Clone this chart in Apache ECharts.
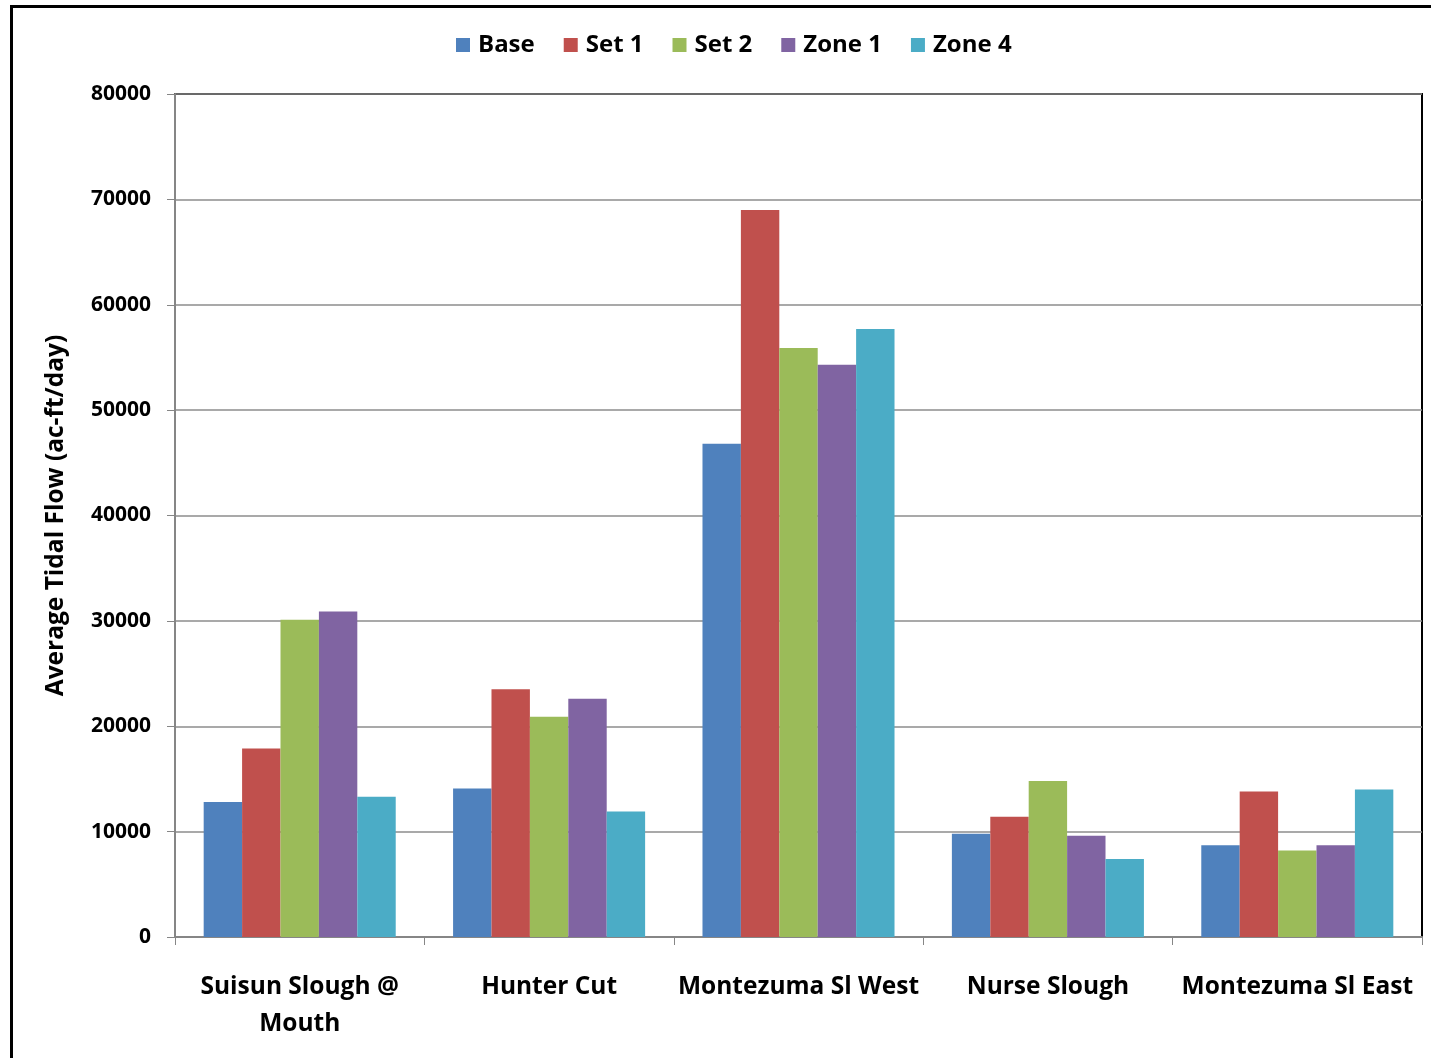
<!DOCTYPE html>
<html>
<head>
<meta charset="utf-8">
<script src="https://cdn.jsdelivr.net/npm/echarts@6/dist/echarts.min.js"></script>
<style>
  html, body { margin: 0; padding: 0; background: #fff; }
  #chart { width: 1431px; height: 1058px; }
</style>
</head>
<body>
<div id="chart"></div>
<script>
// Stations along the slough network
const categories = ['Suisun Slough @\nMouth', 'Hunter Cut', 'Montezuma Sl West', 'Nurse Slough', 'Montezuma Sl East'];

// Average tidal flow (ac-ft/day) for each scenario
const base  = [12800, 14100, 46800, 9800, 8700];
const set1  = [17900, 23500, 69000, 11400, 13800];
const set2  = [30100, 20900, 55900, 14800, 8200];
const zone1 = [30900, 22600, 54300, 9600, 8700];
const zone4 = [13300, 11900, 57700, 7400, 14000];

const seriesNames = ['Base', 'Set 1', 'Set 2', 'Zone 1', 'Zone 4'];
const seriesData = [base, set1, set2, zone1, zone4];
const colors = ['#4F81BD', '#C0504D', '#9BBB59', '#8064A2', '#4BACC6'];

const FONT = '"Open Sans", Lato, sans-serif';

const chart = echarts.init(document.getElementById('chart'));
chart.setOption({
  animation: false,
  backgroundColor: '#ffffff',
  color: colors,
  textStyle: { fontFamily: FONT, fontWeight: 'bold', color: '#000' },
  graphic: [{
    type: 'rect',
    silent: true,
    shape: { x: 11.5, y: 6.5, width: 1600, height: 1200 },
    style: { fill: 'none', stroke: '#000', lineWidth: 3 }
  }],
  legend: {
    top: 28,
    left: 451,
    itemWidth: 14,
    itemHeight: 14,
    itemGap: 29,
    icon: 'rect',
    textStyle: { fontFamily: FONT, fontWeight: 'bold', fontSize: 24, color: '#000', padding: [0, 0, 0, 3] },
    data: seriesNames
  },
  grid: {
    left: 175, right: 9, top: 94, bottom: 121,
    show: true,
    borderColor: '#000',
    borderWidth: 2,
    backgroundColor: 'transparent'
  },
  xAxis: {
    type: 'category',
    data: categories,
    axisLine: { show: true, lineStyle: { color: '#868686', width: 2 } },
    axisTick: { show: true, alignWithLabel: false, length: 8, lineStyle: { color: '#868686', width: 1 } },
    axisLabel: {
      fontFamily: FONT, fontWeight: 'bold', fontSize: 24.5, color: '#000',
      margin: 32, lineHeight: 37, interval: 0
    }
  },
  yAxis: {
    type: 'value',
    min: 0, max: 80000, interval: 10000,
    name: 'Average Tidal Flow (ac-ft/day)',
    nameLocation: 'middle',
    nameGap: 106,
    nameTextStyle: { fontFamily: FONT, fontWeight: 'bold', fontSize: 24.5, color: '#000' },
    axisLine: { show: true, lineStyle: { color: '#868686', width: 2 } },
    axisTick: { show: true, length: 8, lineStyle: { color: '#868686', width: 1 } },
    axisLabel: {
      fontFamily: FONT, fontWeight: 'bold', fontSize: 21, color: '#000', margin: 24,
      formatter: (v) => String(v)
    },
    splitLine: { show: true, lineStyle: { color: '#8c8c8c', width: 1.5 } }
  },
  series: seriesNames.map((name, i) => ({
    name: name,
    type: 'bar',
    data: seriesData[i],
    barGap: '0%',
    barCategoryGap: '23%',
    itemStyle: { color: colors[i] }
  }))
});
</script>
</body>
</html>
